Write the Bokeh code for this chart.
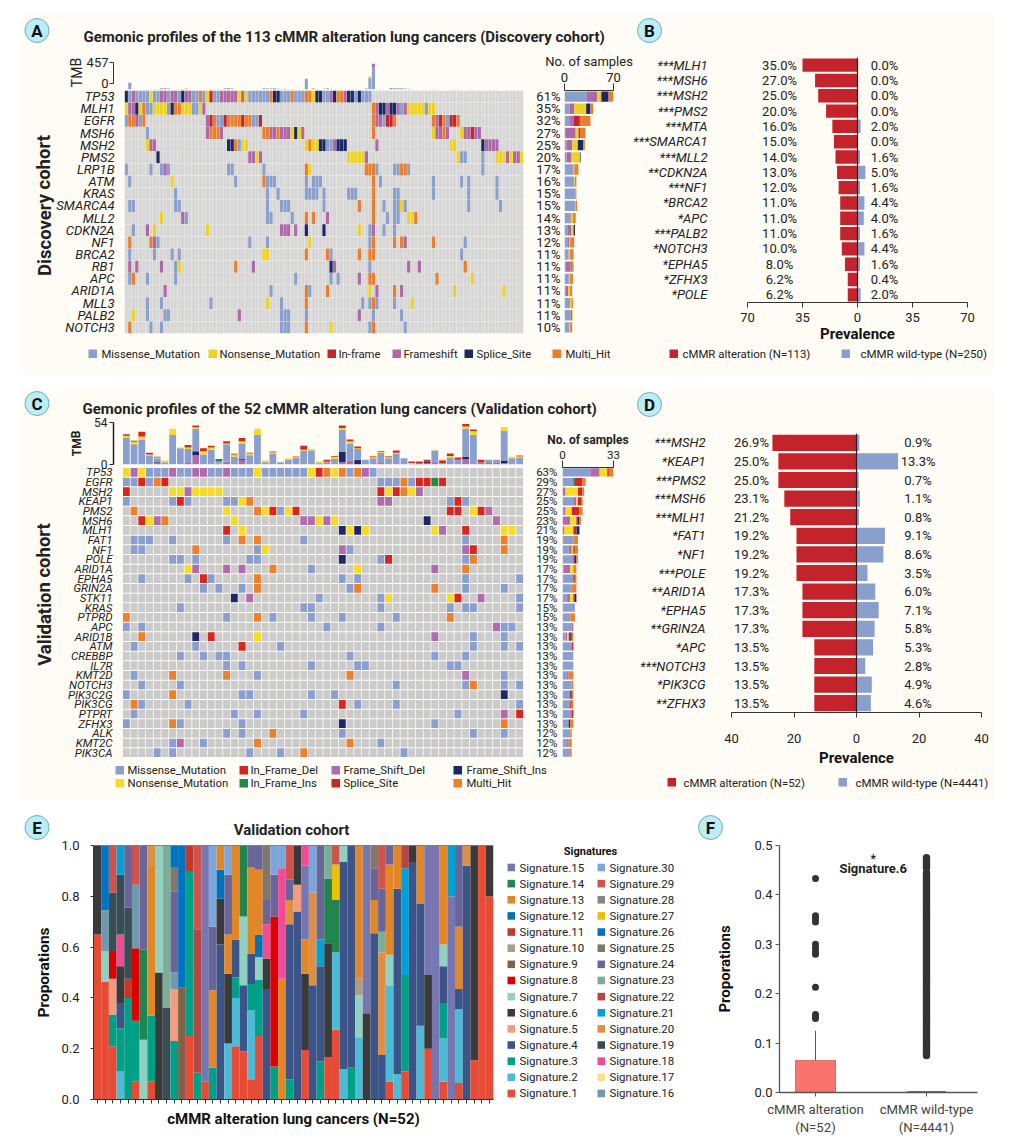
import re
from bokeh.plotting import figure
from bokeh.layouts import column
from bokeh.embed import file_html
from bokeh.resources import INLINE
from bokeh.models import Range1d, FactorRange, LinearAxis, CategoricalAxis, FixedTicker, Span
from bokeh.core.properties import value

FONT = "Roboto"
INK = "#222222"
CREAM = "#FFFCF5"

# ---------- Panel A ----------
A_GENES = ["TP53","MLH1","EGFR","MSH6","MSH2","PMS2","LRP1B","ATM","KRAS","SMARCA4","MLL2","CDKN2A","NF1","BRCA2","RB1","APC","ARID1A","MLL3","PALB2","NOTCH3"]
A_PCT = ["61%","35%","32%","27%","25%","20%","17%","16%","15%","15%","14%","13%","12%","11%","11%","11%","11%","11%","11%","10%"]
A_N = 113
A_MATRIX = {
 "TP53": "S0 M1 F2 M3-6 N7 M8-9 F10-11 M12 F13-14 M15 S16 F17-18 M19-20 O21 M22 N23 R24 M25-26 F27-31 N32 F33 N34 M35-40 O41 S42-43 M44-46 O47 M48-50 O51-52 N53 S54-55 M56-57 F58 S59 O60-61 F62 S63-64 M65 S66 M67-69",
 "MLH1": "N0 F1-2 S3 N4 O5 M6-7 N8-11 M12 S13 O14-15 N16-18 M19-20 N21 F22 O70 F71 S72-73 F74 S75-76 F77 M78 F79 N80-84 M85 N86-87",
 "EGFR": "M0 O1-2 F3 M4 O5 F23 R24 O25 M26-27 R28 O29-31 O32 R33 O34-35 M36-37 R38 O70 F71-72 M73 R74-75 O76 O87 F88 R89 O90 M91 R92-93 O94",
 "MSH6": "M6 F23 O24-26 F27 O39-40 F41-42 O43 F44-46 N47 S48 N49 F50 O70 N87 F88-89 O90 F91 N95 F96-97 R98 F99-100",
 "MSH2": "N6 F7-8 S29-30 O31 M32 N33-34 N51 O52 N53-54 S55-56 M57-58 F59 S60-62 F71 N92-93 S101 F102-105",
 "PMS2": "S9 F35-36 N37 F38 N63-67 F68 N94 M95-96 M101 N105-107 F108 N109 F110-111 N112",
 "LRP1B": "M0 M7 M10 F11 M12 M29-30 M39 O51 N52 O68-70 M71 M76-77 O78-79 M80 M101",
 "ATM": "M1 N13 M31 O39 M40-42 M51 M53-55 O70 M72 M87 M95 M97 M105",
 "KRAS": "M14 M40 M43 M51-54 M56 M63-65 O70 M76-77 M87 M97 M105",
 "SMARCA4": "M1-2 M14-15 M40 M44-46 M56 O66 O70 M73 M76-77 N78 M79 M97 M106",
 "MLL2": "N10 F16 M17 M40-41 M47 O51 O53 F57 O70 M74 M76-77 N80-81 O82",
 "CDKN2A": "M2 F6 N8 N23 F44-46 F48 S51 S56 N66 M69 F70 M73 M76",
 "NF1": "O1 O7 F8 M9 M35 M40 N52 M69 O70 O76 O78 F79 O87 M96",
 "BRCA2": "M1 M8 M13 M15 N39-40 O51 O57 M58 O66 O69-70 M95",
 "RB1": "F1 F3 F10 M14 N15 O31 F36 S58 F59 M69 F80 F83 O96",
 "APC": "M1 O2 M6 M14 M48 M58 M60 F66 O69-70 O88 N98",
 "ARID1A": "F11 M41 O51 M52 O57 N69 F71 O76 F78 N93 N107",
 "MLL3": "M6 M10 M24 N40 M44 O51 M67 M69 O70 M71 M76 N81",
 "PALB2": "N2 M6 M11-12 F32 M44-46 M51 F66 M70 M78",
 "NOTCH3": "O1 M7 M10 M44-46 O51 N58 M69 O70 M79",
}
A_TMB_M = [3,117,5,3,2,4,6,8,7,5,20,24,16,4,3,3,7,16,5,3,2,2,3,4,5,6,7,4,20,28,18,3,2,4,3,2,2,3,2,22,16,18,20,13,10,12,6,9,5,3,3,188,4,16,3,2,13,22,9,5,4,3,6,3,7,4,3,5,16,198,387,5,3,4,3,28,24,22,22,16,11,4,3,2,2,3,2,7,3,2,4,2,6,3,7,2,2,5,3,2,2,1,1,2,1,6,2,2,1,2,1,1,2]
A_TMB_EXTRA = {"F": {70: 70}, "N": {69: 30}}
A_TMB_TICKS = [0, 457]
A_COLORS = {"M":"#8A9FCB","N":"#EDD226","R":"#C5242B","F":"#AE68A6","S":"#1A2866","O":"#E97F2E"}
A_ORDER = ["M","F","N","R","S","O"]
A_LEGEND = [("Missense_Mutation","M",88,101),("Nonsense_Mutation","N",208,219),("In-frame","R",327,338),("Frameshift","F",392,403),("Splice_Site","S",464,476),("Multi_Hit","O",552,565)]

# ---------- Panel B ----------
B_GENES = ["***MLH1","***MSH6","***MSH2","***PMS2","***MTA","***SMARCA1","***MLL2","**CDKN2A","***NF1","*BRCA2","*APC","***PALB2","*NOTCH3","*EPHA5","*ZFHX3","*POLE"]
B_ALT = [35.0,27.0,25.0,20.0,16.0,15.0,14.0,13.0,12.0,11.0,11.0,11.0,10.0,8.0,6.2,6.2]
B_WT = [0.0,0.0,0.0,0.0,2.0,0.0,1.6,5.0,1.6,4.4,4.0,1.6,4.4,1.6,0.4,2.0]

# ---------- Panel C ----------
C_GENES = ["TP53","EGFR","MSH2","KEAP1","PMS2","MSH6","MLH1","FAT1","NF1","POLE","ARID1A","EPHA5","GRIN2A","STK11","KRAS","PTPRD","APC","ARID1B","ATM","CREBBP","IL7R","KMT2D","NOTCH3","PIK3C2G","PIK3CG","PTPRT","ZFHX3","ALK","KMT2C","PIK3CA"]
C_PCT = ["63%","29%","27%","25%","25%","23%","21%","19%","19%","19%","17%","17%","17%","17%","15%","15%","13%","13%","13%","13%","13%","13%","13%","13%","13%","13%","13%","12%","12%","12%"]
C_N = 52
C_MATRIX = {
 "TP53": "N0 F1 N2 M3-5 F6 M7-8 F9-10 M11-12 F13 M14-16 N17 M18-23 N24 R25 O26 N27 O28 M29 O30 F31 M32",
 "EGFR": "M0-1 R2 M3 O4 R5 M33-35 O36 M37 R38-39 G40 R41",
 "MSH2": "R0 N6-7 F8 N9-12 R33 N34 R35 O36 N37 F38",
 "KEAP1": "M0 M6 R7 M8 M13-14 N15 O16 F33-34 M42 R43 M44",
 "PMS2": "O1 N13 O17 N18 R19 M20 N21 R22 R42-43 N45 R46 F47",
 "MSH6": "R2 N3 F4 O5 N14 F23-24 N25 F26 N27 S39 F48",
 "MLH1": "R13 N15 S28 N29 S30 N31 N40 F41 R44 N49-50",
 "FAT1": "M1-3 M6 M13 O15 O17 M23 M44 O49",
 "NF1": "M1-2 O9 M17 N18 F28 M29 F44 R45 O49",
 "POLE": "M6-7 M9 M16-17 S28 M33 R34 M44 O45",
 "ARID1A": "N8 F9 F13 F15 O19 M24 N30 F40 O44",
 "EPHA5": "M2 M8 R10 M11 O17 M28 M30 M44 M51",
 "GRIN2A": "M10 M12 M15 O17 M29 O30 O40 M44 M49",
 "STK11": "S14 F16 M25 M33 N34 N42 R43 F46 M51",
 "KRAS": "M7 M23-24 M33 M42 M44-45 M51",
 "PTPRD": "O0 M13 O17 M19 M24 M28 M35 O42",
 "APC": "M0 M2 M26 M33 F48 M49-50",
 "ARID1B": "O2 S9 R11 N17 F40 M45 M49",
 "ATM": "M1 M9 R15 M20 M45 M49 M51",
 "CREBBP": "M7 M10 M12-13 M29 M40 M44",
 "IL7R": "M13 M15 M24 M30-31 M42-43",
 "KMT2D": "M1 O6 O13 M17 O29 F44 M49",
 "NOTCH3": "M2 M7 M35 M44 O45 M49 M51",
 "PIK3C2G": "M0 O6 M15-16 M24 M27 S49",
 "PIK3CG": "O1 M2 M8 R28 M30 M35 M51",
 "PTPRT": "M1 M14 M17 M23 M43 F49 R51",
 "ZFHX3": "M0 O6 M7 M15 S28 M40 O49",
 "ALK": "M13 M15 O19 M28 M45 M49",
 "KMT2C": "M6 F7 M10 O17 O29 M33",
 "PIK3CA": "M4 M6 M16 M20 O23 M36",
}
C_TMB_F = [0,0,0,0,2,0,0,0,2,12,0,0,1,4,0,6,0,0,0,0,0,0,0,0,0,1,0,0,3,5,0,0,0,3,0,0,0,0,2,2,3,0,0,0,7,0,3,2,3,2,0,0]
C_TMB_S = [0,0,0,0,1,0,0,0,0,5,0,0,0,0,0,1,0,0,0,0,0,0,0,0,0,0,0,0,13,0,6,0,0,0,0,0,0,0,0,2,0,0,0,0,3,0,0,0,0,3,0,0]
C_TMB_M = [34,26,32,11,5,3,38,21,18,29,13,19,3,22,10,20,12,38,3,14,3,6,9,18,18,1,4,7,29,22,14,6,8,12,8,14,8,1,0,0,15,2,9,6,36,38,0,4,3,38,8,9]
C_TMB_G = [0,0,0,0,0,0,0,0,0,0,0,0,3,0,0,0,0,0,0,0,0,0,0,0,0,0,0,0,0,0,0,0,0,0,0,0,0,0,0,0,0,0,0,0,0,0,0,0,0,0,0,0]
C_TMB_N = [3,3,4,2,1,2,8,1,2,2,4,3,0,1,2,3,2,8,2,1,0,2,1,1,2,2,0,3,2,3,1,0,1,1,1,1,0,1,0,0,1,0,2,0,3,5,0,0,0,5,2,1]
C_TMB_R = [2,1,6,2,1,0,0,0,3,2,4,2,0,3,0,4,1,0,0,0,0,0,0,5,0,0,2,1,3,2,2,0,0,1,0,3,0,2,2,2,0,3,3,3,3,2,3,0,0,0,0,0]
C_TMB_O = [0,1,0,0,0,0,0,0,0,0,0,0,0,0,2,0,0,0,0,2,0,0,1,0,0,0,0,0,0,0,0,0,2,0,2,0,0,0,0,0,0,1,0,0,0,0,0,0,0,0,0,2]
C_TMB_TICKS = [0, 54]
C_COLORS = {"M":"#8A9FCF","N":"#F5DA27","R":"#D7261E","G":"#1E8A4A","F":"#B06AAE","S":"#1B2A66","O":"#EE7F2D"}
C_ORDER = ["M","F","N","G","R","S","O"]
C_LEGEND = [("Missense_Mutation","#8A9FCF",115,127,770),("Nonsense_Mutation","#F5DA27",115,127,783),
            ("In_Frame_Del","#D7261E",239,250,770),("In_Frame_Ins","#1E8A4A",239,250,783),
            ("Frame_Shift_Del","#B06AAE",331,343,770),("Splice_Site","#C9252B",331,343,783),
            ("Frame_Shift_Ins","#1B2A66",453,466,770),("Multi_Hit","#EE7F2D",453,466,783)]

# ---------- Panel D ----------
D_GENES = ["***MSH2","*KEAP1","***PMS2","***MSH6","***MLH1","*FAT1","*NF1","***POLE","**ARID1A","*EPHA5","**GRIN2A","*APC","***NOTCH3","*PIK3CG","**ZFHX3"]
D_ALT = [26.9,25.0,25.0,23.1,21.2,19.2,19.2,19.2,17.3,17.3,17.3,13.5,13.5,13.5,13.5]
D_WT = [0.9,13.3,0.7,1.1,0.8,9.1,8.6,3.5,6.0,7.1,5.8,5.3,2.8,4.9,4.6]

# ---------- Panel E : per sample list of (signature, cumulative top) ----------
E_SAMPLES = [
 [(1,.65),(6,1)],
 [(1,.465),(7,.585),(16,.745),(26,1)],
 [(1,.21),(3,.335),(5,.475),(8,.585),(19,.815),(29,1)],
 [(2,.11),(3,.28),(4,.38),(6,.525),(18,.65),(19,.885),(21,1)],
 [(3,.40),(11,.475),(19,.755),(24,1)],
 [(1,.07),(3,.31),(8,.595),(16,.845),(29,1)],
 [(7,.235),(14,.59),(24,1)],
 [(1,.07),(3,.33),(13,.915),(20,1)],
 [(6,.50),(7,1)],
 [(19,.36),(23,1)],
 [(3,.23),(5,.435),(16,.50),(24,.82),(25,.915),(26,1)],
 [(9,.44),(26,1)],
 [(1,.25),(3,.90),(11,1)],
 [(3,.105),(22,.67),(29,1)],
 [(1,.07),(15,1)],
 [(3,.125),(13,.43),(24,.68),(30,1)],
 [(4,.61),(6,.79),(12,.905),(13,1)],
 [(2,.22),(6,.495),(13,.65),(24,.885),(30,1)],
 [(1,.21),(2,.40),(3,.48),(4,.63),(13,1)],
 [(1,.19),(4,.45),(7,.72),(14,1)],
 [(1,.08),(2,.35),(3,.455),(4,.575),(13,.915),(24,1)],
 [(1,.25),(3,.47),(7,.56),(12,.65),(13,.905),(24,1)],
 [(4,.435),(6,.555),(18,.69),(24,.785),(25,1)],
 [(3,.13),(8,.72),(24,.885),(30,1)],
 [(13,.475),(18,.91),(30,1)],
 [(3,.08),(4,.69),(20,.785),(24,.865),(29,1)],
 [(4,.74),(5,.845),(6,1)],
 [(1,.195),(6,.495),(13,.63),(15,.92),(18,1)],
 [(4,.45),(20,.815),(30,1)],
 [(3,.15),(4,.525),(21,.63),(24,1)],
 [(1,.165),(6,.615),(14,.87),(23,1)],
 [(1,.275),(2,.58),(14,.785),(27,.925),(29,1)],
 [(2,.12),(4,.935),(7,1)],
 [(3,.125),(4,1)],
 [(2,.245),(7,.41),(10,.475),(13,1)],
 [(6,.34),(15,1)],
 [(4,.655),(13,.785),(24,.91),(25,1)],
 [(4,.175),(20,.58),(23,.66),(24,.83),(29,1)],
 [(1,.07),(2,.45),(7,.57),(13,.925),(24,1)],
 [(2,.10),(4,.83),(13,1)],
 [(1,.11),(3,.49),(21,.91),(22,1)],
 [(4,.935),(6,1)],
 [(2,.29),(4,.77),(13,1)],
 [(1,.20),(6,.49),(15,1)],
 [(15,1)],
 [(1,.07),(2,.24),(3,.38),(4,.525),(7,.61),(13,1)],
 [(15,.80),(21,1)],
 [(1,.065),(2,.355),(4,.435),(13,.68),(24,1)],
 [(4,.92),(20,1)],
 [(1,.155),(6,1)],
 [(1,1)],
 [(1,.80),(6,1)],
]
SIG_COLORS = {1:"#E64B35",2:"#4DBBD5",3:"#00A087",4:"#3C5488",5:"#F39B7F",6:"#3A3A3A",7:"#91D1C2",8:"#DC0000",9:"#7E6148",10:"#B09C85",
 11:"#C0392B",12:"#0072B5",13:"#E18727",14:"#20854E",15:"#7876B1",16:"#6F99AD",17:"#FFDC91",18:"#EE4C97",19:"#374E55",20:"#DF8F44",
 21:"#00A1D5",22:"#B24745",23:"#79AF97",24:"#6A6599",25:"#80796B",26:"#0073C2",27:"#EFC000",28:"#868686",29:"#CD534C",30:"#7AA6DC"}

# ---------- Panel F ----------
F_LABELS = {1:"cMMR alteration\n(N=52)", 2:"cMMR wild-type\n(N=4441)"}
F_ALT_BOX_TOP = 0.065
F_ALT_WHISKER = 0.125
F_WT_BOX_TOP = 0.002
F_ALT_OUT = [0.433,0.358,0.352,0.345,0.300,0.292,0.285,0.280,0.213,0.158,0.155,0.150]
F_WT_OUT = [0.075,0.08,0.085,0.09,0.095,0.10,0.105,0.11,0.115,0.12,0.125,0.13,0.135,0.14,0.145,0.15,0.155,0.16,0.165,0.17,0.175,0.18,0.185,0.19,0.195,0.20,0.205,0.21,0.215,0.22,0.225,0.23,0.235,0.24,0.245,0.25,0.255,0.26,0.265,0.27,0.275,0.28,0.285,0.29,0.295,0.30,0.305,0.31,0.315,0.32,0.325,0.33,0.335,0.34,0.345,0.35,0.355,0.36,0.365,0.37,0.375,0.38,0.385,0.39,0.395,0.40,0.405,0.41,0.415,0.42,0.425,0.43,0.435,0.44,0.445,0.455,0.46,0.465,0.47,0.475]


figs = []

def frame(x0, y0, x1, y1, xr, yr, L=4, R=4, T=4, B=4, **kw):
    p = figure(width=x1-x0+L+R, height=y1-y0+T+B, x_range=xr, y_range=yr,
               toolbar_location=None, output_backend="svg", frame_align=False,
               min_border_left=L, min_border_right=R, min_border_top=T, min_border_bottom=B,
               background_fill_color=None, border_fill_color=None, outline_line_color=None,
               x_axis_location=None, y_axis_location=None,
               styles={"position":"absolute","left":f"{x0-L}px","top":f"{y0-T}px"}, **kw)
    p.xgrid.visible = False
    p.ygrid.visible = False
    figs.append(p)
    return p

def style_axis(ax, size="13px", line="#333333"):
    ax.major_label_text_font = FONT
    ax.major_label_text_font_size = size
    ax.major_label_text_color = INK
    ax.axis_line_color = line
    ax.major_tick_line_color = line
    ax.minor_tick_line_color = None
    ax.major_tick_in = 0
    ax.axis_label_text_font = FONT
    ax.axis_label_text_color = "#111111"
    ax.axis_label_text_font_style = "bold"

def parse(spec):
    out = {}
    for tok in spec.split():
        m = re.fullmatch(r"([A-Z])(\d+)(?:-(\d+))?", tok)
        a = int(m.group(2)); b = int(m.group(3) or a)
        for c in range(a, b+1):
            out[c] = m.group(1)
    return out

def oncoplot(genes, matrix, n, colors, gray, x0, y0, x1, y1, label_size, cw, ch):
    p = frame(x0, y0, x1, y1, Range1d(0, n), FactorRange(factors=list(reversed(genes))), L=90, T=6, B=6)
    ax = CategoricalAxis()
    style_axis(ax, label_size)
    ax.axis_line_color = None
    ax.major_tick_line_color = None
    ax.major_tick_out = 0
    ax.major_label_text_font_style = "italic"
    ax.major_label_standoff = 10
    p.add_layout(ax, "left")
    xs, ys, cs = [], [], []
    for g in genes:
        row = parse(matrix[g])
        for c in range(n):
            xs.append(c + .5); ys.append(g); cs.append(colors[row[c]] if c in row else gray)
    p.rect(x=xs, y=ys, width=cw, height=ch, fill_color=cs, line_color=None)
    return p

def sidebars(genes, matrix, order, colors, pct, x0, y0, x1, y1, xmax, label_size, title, title_size, title_style, bar_h, so):
    n = len(genes)
    p = frame(x0, y0, x1, y1, Range1d(0, xmax), Range1d(n, 0), L=40, T=60, R=24, B=8)
    lft = LinearAxis(ticker=FixedTicker(ticks=[i+.5 for i in range(n)]),
                     major_label_overrides={i+.5: pct[i] for i in range(n)})
    style_axis(lft, label_size)
    lft.axis_line_color = None
    lft.major_tick_line_color = None
    lft.major_tick_out = 0
    lft.major_label_standoff = so
    p.add_layout(lft, "left")
    top = LinearAxis(ticker=FixedTicker(ticks=[0, xmax]), axis_label=title)
    style_axis(top, label_size)
    top.major_tick_out = 7
    top.major_label_standoff = 2
    top.axis_label_text_font_size = title_size
    top.axis_label_text_font_style = title_style
    top.axis_label_text_color = INK
    top.axis_label_standoff = 1
    p.add_layout(top, "above")
    for i, g in enumerate(genes):
        row = parse(matrix[g])
        left = 0
        for t in order:
            k = sum(1 for v in row.values() if v == t)
            if k:
                p.hbar(y=[i+.5], left=[left], right=[left+k], height=bar_h, fill_color=colors[t], line_color=None)
                left += k
    return p

def pyramid(genes, alt, wt, x0, y0, x1, y1, lim, ticks, lx, rx, standoff, lab_so, label_pad):
    p = frame(x0, y0, x1, y1, Range1d(-lim, lim), FactorRange(factors=list(reversed(genes))), L=130, B=56, T=4, R=12)
    ax = CategoricalAxis()
    style_axis(ax, "13px")
    ax.axis_line_color = None
    ax.major_tick_line_color = None
    ax.major_tick_out = 0
    ax.major_label_text_font_style = "italic"
    ax.major_label_standoff = standoff
    p.add_layout(ax, "left")
    bx = LinearAxis(ticker=FixedTicker(ticks=ticks), major_label_overrides={t: str(abs(t)) for t in ticks},
                    axis_label="Prevalence")
    style_axis(bx, "13px")
    bx.major_tick_out = 5
    bx.major_label_standoff = lab_so
    bx.axis_label_text_font_size = "15px"
    bx.axis_label_standoff = label_pad
    p.add_layout(bx, "below")
    p.hbar(y=genes, left=[-a for a in alt], right=0, height=0.87, fill_color="#C4232B", line_color=None)
    p.hbar(y=genes, left=0, right=wt, height=0.87, fill_color="#8A9FCB", line_color=None)
    p.add_layout(Span(location=0, dimension="height", line_color="#222222", line_width=1.2))
    p.text(x=[lx]*len(genes), y=genes, text=[f"{a:.1f}%" for a in alt], text_align="center", text_baseline="middle",
           text_font=value(FONT), text_font_size="13px", text_color=INK)
    p.text(x=[rx]*len(genes), y=genes, text=[f"{w:.1f}%" for w in wt], text_align="center", text_baseline="middle",
           text_font=value(FONT), text_font_size="13px", text_color=INK)
    return p

# ---------- backdrop in page pixels ----------
bg = figure(width=997, height=1132, x_range=Range1d(8, 1005), y_range=Range1d(1140, 8),
            toolbar_location=None, output_backend="svg", x_axis_location=None, y_axis_location=None, frame_align=False,
            min_border=0, background_fill_color=None, border_fill_color=None, outline_line_color=None,
            styles={"position":"absolute","left":"8px","top":"8px"})
bg.xgrid.visible = False; bg.ygrid.visible = False
figs.append(bg)
bg.quad(left=[20,20], right=[993,993], top=[14,388], bottom=[374,800], fill_color=CREAM, line_color=None)

def page_text(x, y, s, size, style="normal", align="left", angle=0, color=INK):
    bg.text(x=[x], y=[y], text=[s], text_font=value(FONT), text_font_size=size, text_font_style=style,
            text_align=align, text_baseline="middle", angle=angle, text_color=color)

for lab, x, y in [("A",36.5,30),("B",649,30),("C",36.5,403),("D",649,404),("E",36.5,827),("F",710,827)]:
    bg.scatter(x=[x], y=[y], size=24, fill_color="#BDEDF4", line_color="#6DAFBB", line_width=1)
    page_text(x, y+.5, lab, "17px", "bold", "center", color="#111111")

page_text(83, 36, "Gemonic profiles of the 113 cMMR alteration lung cancers (Discovery cohort)", "15px", "bold")
page_text(82, 408, "Gemonic profiles of the 52 cMMR alteration lung cancers (Validation cohort)", "15px", "bold")
page_text(291, 829, "Validation cohort", "15px", "bold", "center")
page_text(44, 205, "Discovery cohort", "18.5px", "bold", "center", 1.5708)
page_text(44, 594, "Validation cohort", "18.5px", "bold", "center", 1.5708)
page_text(76, 72, "TMB", "14px", "normal", "center", 1.5708)
page_text(76, 443, "TMB", "12px", "bold", "center", 1.5708)

for name, k, sx, tx in A_LEGEND:
    bg.quad(left=[sx], right=[sx+8.5], top=[349], bottom=[357.5], fill_color=A_COLORS[k], line_color=None)
    page_text(tx, 353.5, name, "11.3px")
for name, col, sx, tx, y in C_LEGEND:
    bg.quad(left=[sx], right=[sx+8.5], top=[y-4.5], bottom=[y+4], fill_color=col, line_color=None)
    page_text(tx, y, name, "11.3px")
for red_x, rt, blue_x, bt, y, a, b in [(669,682,841,860,353.5,"cMMR alteration (N=113)","cMMR wild-type (N=250)"),
                                       (667,683,838,855,782,"cMMR alteration (N=52)","cMMR wild-type (N=4441)")]:
    bg.quad(left=[red_x], right=[red_x+8.5], top=[y-4.5], bottom=[y+4], fill_color="#C4232B", line_color=None)
    bg.quad(left=[blue_x], right=[blue_x+8.5], top=[y-4.5], bottom=[y+4], fill_color="#8A9FCB", line_color=None)
    page_text(rt, y, a, "11.4px")
    page_text(bt, y, b, "11.5px")

page_text(590, 851, "Signatures", "11px", "bold", "center", color="#111111")
for col_i, sigs in enumerate([range(15,0,-1), range(30,15,-1)]):
    sx = 507 + 90*col_i
    for i, s in enumerate(sigs):
        y = 867 + 16.14*i
        bg.quad(left=[sx], right=[sx+7.5], top=[y-3.8], bottom=[y+3.8], fill_color=SIG_COLORS[s], line_color=None)
        page_text(sx+12, y, f"Signature.{s}", "11.5px")

# ---------- A ----------
oncoplot(A_GENES, A_MATRIX, A_N, A_COLORS, "#D6D6D6", 124, 90, 523, 333, "13px", 0.93, 0.98)
tm = frame(124, 63, 523, 89, Range1d(0, A_N), Range1d(0, 457))
base = [0]*A_N
tm.vbar(x=[i+.5 for i in range(A_N)], bottom=base, top=A_TMB_M, width=.85, fill_color=A_COLORS["M"], line_color=None)
for i, (k, d) in enumerate(A_TMB_EXTRA.items()):
    for c, v in d.items():
        tm.vbar(x=[c+.5], bottom=[A_TMB_M[c]], top=[A_TMB_M[c]+v], width=.85, fill_color=A_COLORS[k], line_color=None)
ta = frame(113, 62, 114, 83, Range1d(0, 1), Range1d(0, 457), L=40, T=10, B=10)
axa = LinearAxis(ticker=FixedTicker(ticks=A_TMB_TICKS))
style_axis(axa, "13px")
axa.major_tick_out = 4
axa.major_label_standoff = 1
ta.add_layout(axa, "left")
sidebars(A_GENES, A_MATRIX, A_ORDER, A_COLORS, A_PCT, 564, 90, 613, 333, 70, "13px", "No. of samples", "13px", "normal", 0.85, 4)

# ---------- B ----------
pyramid(B_GENES, B_ALT, B_WT, 747, 57, 967, 302, 70, [-70,-35,0,35,70], -49.6, 17.2, 40, 5, 0)

# ---------- C ----------
oncoplot(C_GENES, C_MATRIX, C_N, C_COLORS, "#CBCBCB", 122, 467, 523, 757, "11.5px", 0.9, 0.9)
cw = (523-122)/C_N
tc = frame(113, 422, 523, 464, Range1d(-9/cw, C_N), Range1d(0, 54), L=30, T=10, B=10)
axc = LinearAxis(ticker=FixedTicker(ticks=C_TMB_TICKS))
style_axis(axc, "12px", "#222222")
axc.axis_line_width = 1.5
axc.major_tick_out = 4
axc.major_label_standoff = 2
tc.add_layout(axc, "left")
bottoms = [0]*C_N
for k, arr in [("F",C_TMB_F),("S",C_TMB_S),("M",C_TMB_M),("G",C_TMB_G),("N",C_TMB_N),("R",C_TMB_R),("O",C_TMB_O)]:
    tops = [b+v for b, v in zip(bottoms, arr)]
    tc.vbar(x=[i+.5 for i in range(C_N)], bottom=bottoms, top=tops, width=.88, fill_color=C_COLORS[k], line_color=None)
    bottoms = tops
sidebars(C_GENES, C_MATRIX, C_ORDER, C_COLORS, C_PCT, 562, 467, 613, 757, 33, "11.5px", "No. of samples", "12px", "bold", 0.85, 5)

# ---------- D ----------
pyramid(D_GENES, D_ALT, D_WT, 731, 433, 981, 713, 40, [-40,-20,0,20,40], -33.6, 19.7, 26, 16, 3)

# ---------- E ----------
pe = frame(93, 845, 493, 1099, Range1d(0, C_N), Range1d(0, 1), L=70, B=40, T=12)
axy = LinearAxis(ticker=FixedTicker(ticks=[0,.2,.4,.6,.8,1.0]), axis_label="Proporations",
                 major_label_overrides={0:"0.0",.2:"0.2",.4:"0.4",.6:"0.6",.8:"0.8",1.0:"1.0"})
style_axis(axy, "13px")
axy.major_tick_out = 3
axy.major_label_standoff = 11
axy.axis_label_text_font_size = "15.5px"
axy.axis_label_standoff = 5
pe.add_layout(axy, "left")
axx = LinearAxis(ticker=FixedTicker(ticks=[i+.5 for i in range(C_N)]), axis_label="cMMR alteration lung cancers (N=52)",
                 major_label_text_color=None)
style_axis(axx, "1px")
axx.major_label_text_color = None
axx.major_tick_out = 4
axx.axis_label_text_font_size = "15px"
axx.axis_label_standoff = 6
pe.add_layout(axx, "below")
for i, stack in enumerate(E_SAMPLES):
    low = 0
    for s, hi in stack:
        pe.vbar(x=[i+.5], bottom=[low], top=[hi], width=1.0, fill_color=SIG_COLORS[s], line_color=None)
        low = hi
pe.add_layout(Span(location=1, dimension="width", line_color="#222222", line_width=1))

# ---------- F ----------
pf = frame(779, 845, 977, 1093, Range1d(1-36/111, 2+51/111), Range1d(0, .5), L=80, B=44, T=12, R=26)
fy = LinearAxis(ticker=FixedTicker(ticks=[0,.1,.2,.3,.4,.5]), axis_label="Proporations",
                major_label_overrides={0:"0.0",.1:"0.1",.2:"0.2",.3:"0.3",.4:"0.4",.5:"0.5"})
style_axis(fy, "13px", "#555555")
fy.axis_line_width = 1.3
fy.major_tick_out = 4
fy.major_label_standoff = 3
fy.axis_label_text_font_size = "15px"
fy.axis_label_standoff = 17
pf.add_layout(fy, "left")
fx = LinearAxis(ticker=FixedTicker(ticks=[1,2]), major_label_overrides=F_LABELS)
style_axis(fx, "13.2px", "#555555")
fx.axis_line_width = 1.3
fx.major_tick_out = 4
fx.major_label_text_color = "#444444"
pf.add_layout(fx, "below")
pf.segment(x0=[1], x1=[1], y0=[F_ALT_BOX_TOP], y1=[F_ALT_WHISKER], line_color="#555555", line_width=1)
pf.quad(left=[1-20/111], right=[1+20/111], bottom=[0], top=[F_ALT_BOX_TOP], fill_color="#FB736D", line_color="#B05550", line_width=0.7)
pf.quad(left=[2-19/111], right=[2+19/111], bottom=[0], top=[F_WT_BOX_TOP], fill_color="#444444", line_color="#444444", line_width=0.5)
pf.scatter(x=[1]*len(F_ALT_OUT), y=F_ALT_OUT, size=7, fill_color="#333333", line_color=None)
pf.scatter(x=[2]*len(F_WT_OUT), y=F_WT_OUT, size=7.5, fill_color="#333333", line_color=None)
pf.text(x=[1.52], y=[.453], text=["Signature.6"], text_align="center", text_baseline="middle",
        text_font=value(FONT), text_font_size="13px", text_font_style="bold", text_color="#222222")
pf.text(x=[1.52], y=[.472], text=["*"], text_align="center", text_baseline="middle",
        text_font=value(FONT), text_font_size="12px", text_font_style="bold", text_color="#222222")

root = column(*figs, width=997, height=1132, styles={"position":"relative"})
open("out.html", "w").write(file_html(root, INLINE))
